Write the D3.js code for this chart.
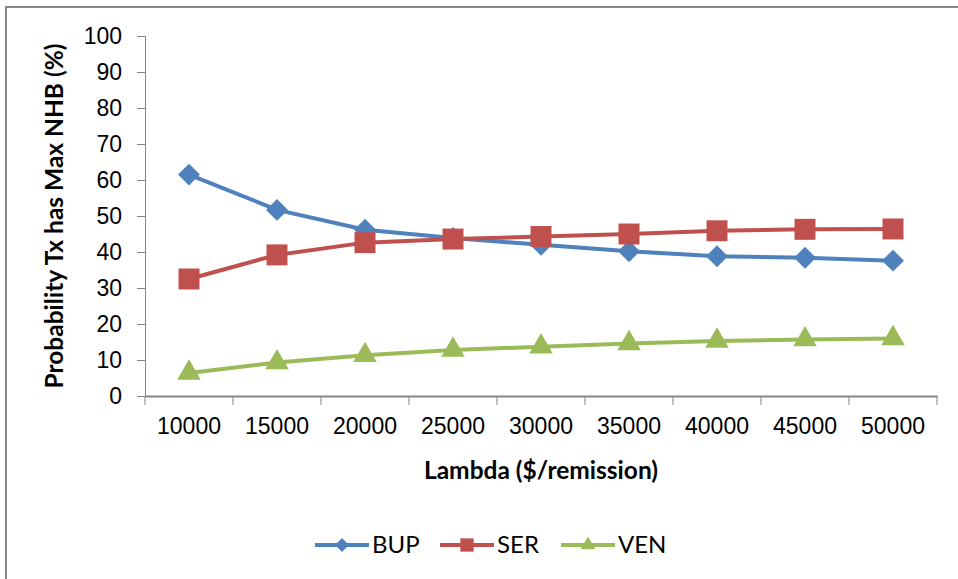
<!DOCTYPE html>
<html>
<head>
<meta charset="utf-8">
<script src="https://cdn.jsdelivr.net/npm/d3@7"></script>
<style>
  body { margin: 0; background: #fff; }
  svg { font-family: Lato, "Liberation Sans", sans-serif; }
</style>
</head>
<body>
<div class="chart"></div>
<script>
// data
const lambdas = ["10000", "15000", "20000", "25000", "30000", "35000", "40000", "45000", "50000"];
const bup = [61.5, 51.7, 46.2, 43.9, 42.0, 40.2, 38.8, 38.4, 37.6];
const ser = [32.5, 39.2, 42.6, 43.6, 44.3, 45.0, 45.9, 46.3, 46.4];
const ven = [6.4, 9.3, 11.3, 12.8, 13.7, 14.6, 15.3, 15.7, 16.0];
const yTicks = [0, 10, 20, 30, 40, 50, 60, 70, 80, 90, 100];

// square turned 45 degrees, as Excel draws its diamond marker
const squareDiamond = {
    draw: function (context, size) {
        const r = Math.sqrt(size) / 2 * Math.SQRT2;
        context.moveTo(0, -r);
        context.lineTo(r, 0);
        context.lineTo(0, r);
        context.lineTo(-r, 0);
        context.closePath();
    }
};

const series = [
    { name: "BUP", values: bup, color: "#4F81BD", shape: squareDiamond, size: 240 },
    { name: "SER", values: ser, color: "#C0504D", shape: d3.symbolSquare, size: 440 },
    { name: "VEN", values: ven, color: "#9BBB59", shape: d3.symbolTriangle, size: 240 }
];

const width = 958, height = 579;
const margin = { top: 36, left: 145, right: 21, bottom: 183 };
const plotW = width - margin.left - margin.right;
const plotH = height - margin.top - margin.bottom;

const svg = d3.select("div.chart")
    .append("svg")
    .attr("width", width)
    .attr("height", height);

// outer frame (only top and left edges show)
svg.append("path")
    .attr("d", "M6,579 V7 H958")
    .attr("fill", "none")
    .attr("stroke", "#868686")
    .attr("stroke-width", 2);

const chart = svg.append("g")
    .attr("transform", "translate(" + margin.left + "," + margin.top + ")");

const x = d3.scaleBand().domain(lambdas).range([0, plotW]);
const y = d3.scaleLinear().domain([0, 100]).range([plotH, 0]);

// y axis
const yAxis = chart.append("g")
    .call(d3.axisLeft(y).tickValues(yTicks).tickSize(8).tickPadding(15));
yAxis.select(".domain").attr("stroke", "#868686");
yAxis.selectAll(".tick line").attr("stroke", "#868686");
yAxis.selectAll("text").style("font-size", "23px").attr("fill", "#000");

// x axis with ticks between categories
const xAxis = chart.append("g")
    .attr("transform", "translate(0," + plotH + ")")
    .call(d3.axisBottom(x).tickSize(0).tickPadding(22));
xAxis.select(".domain").attr("stroke", "#868686").attr("stroke-width", 2);
xAxis.selectAll("text").style("font-size", "23px").attr("fill", "#000");
xAxis.selectAll(".sep")
    .data(lambdas.concat(["end"]))
    .enter()
    .append("line")
    .attr("class", "sep")
    .attr("x1", function (d, i) { return i * x.step(); })
    .attr("x2", function (d, i) { return i * x.step(); })
    .attr("y1", 0)
    .attr("y2", 9)
    .attr("stroke", "#868686");

// axis titles
chart.append("text")
    .attr("x", plotW / 2)
    .attr("y", plotH + 83)
    .attr("text-anchor", "middle")
    .style("font-size", "24.5px")
    .style("font-weight", "bold")
    .text("Lambda ($/remission)");

chart.append("text")
    .attr("transform", "translate(" + (-82) + "," + (plotH / 2) + ") rotate(-90)")
    .attr("text-anchor", "middle")
    .style("font-size", "24.5px")
    .style("font-weight", "bold")
    .text("Probability Tx has Max NHB (%)");

// lines and markers
const line = d3.line()
    .x(function (d, i) { return x(lambdas[i]) + x.bandwidth() / 2; })
    .y(function (d) { return y(d); });

series.forEach(function (s) {
    chart.append("path")
        .datum(s.values)
        .attr("d", line)
        .attr("fill", "none")
        .attr("stroke", s.color)
        .attr("stroke-width", 4)
        .attr("stroke-linejoin", "round");

    chart.append("g")
        .selectAll("path")
        .data(s.values)
        .enter()
        .append("path")
        .attr("d", d3.symbol().type(s.shape).size(s.size))
        .attr("transform", function (d, i) {
            return "translate(" + (x(lambdas[i]) + x.bandwidth() / 2) + "," + y(d) + ")";
        })
        .attr("fill", s.color);
});

// legend
const legendX = [315, 440, 561];
const legend = svg.append("g").attr("transform", "translate(0,545)");
series.forEach(function (s, i) {
    const g = legend.append("g").attr("transform", "translate(" + legendX[i] + ",0)");
    g.append("line")
        .attr("x1", 0).attr("x2", 54)
        .attr("stroke", s.color)
        .attr("stroke-width", 4);
    g.append("path")
        .attr("d", d3.symbol().type(s.shape).size(s.size * 0.4))
        .attr("transform", "translate(27,0)")
        .attr("fill", s.color);
    g.append("text")
        .attr("x", 57)
        .attr("dy", "0.35em")
        .style("font-size", "24px")
        .text(s.name);
});
</script>
</body>
</html>
